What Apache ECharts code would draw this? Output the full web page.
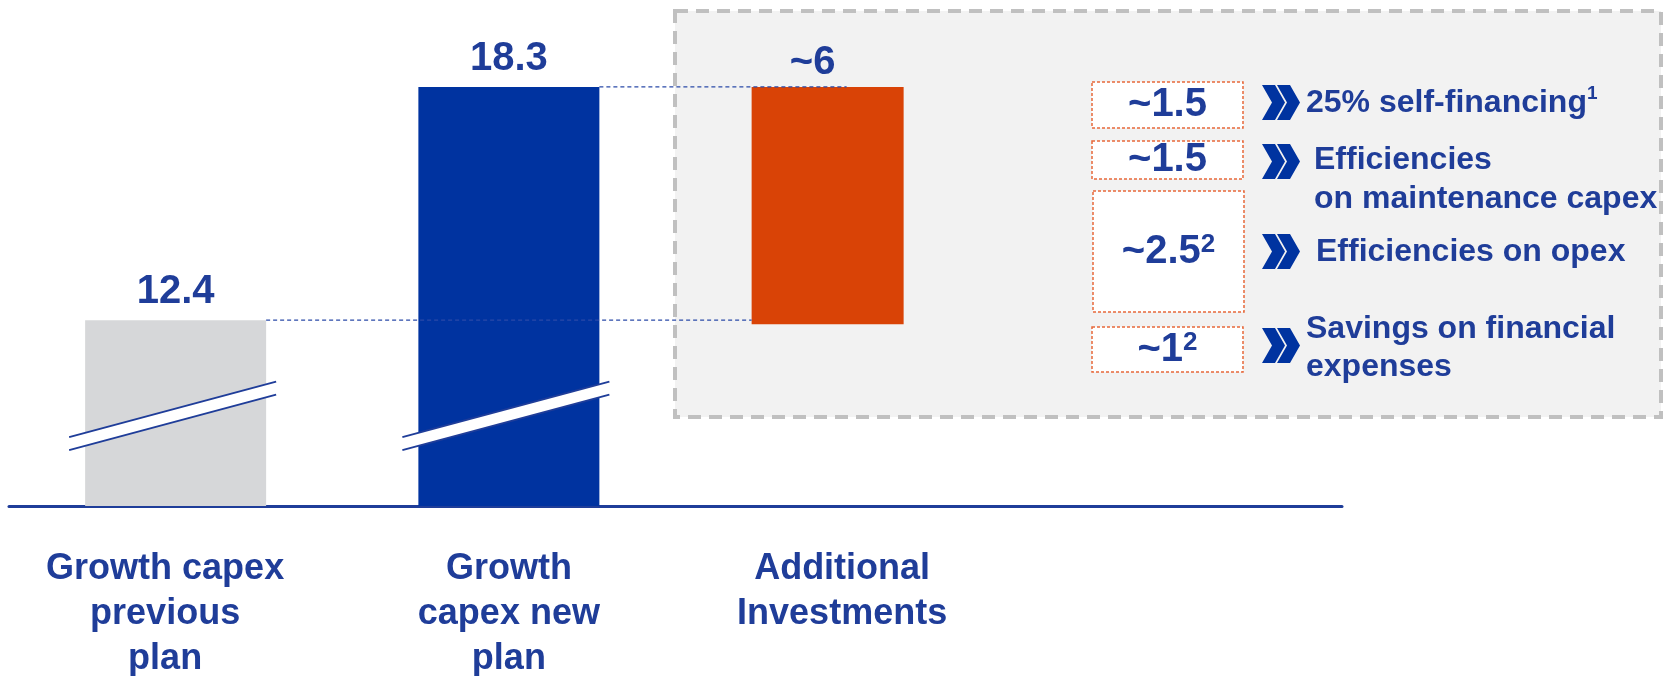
<!DOCTYPE html>
<html>
<head>
<meta charset="utf-8">
<script src="https://cdn.jsdelivr.net/npm/echarts@6/dist/echarts.min.js"></script>
<style>
  html, body { margin: 0; padding: 0; background: #ffffff; }
  #chart { width: 1668px; height: 676px; }
</style>
</head>
<body>
<div id="chart"></div>
<script>
// ---- data ----
const categories = ['Growth capex\nprevious\nplan', 'Growth\ncapex new\nplan', 'Additional\nInvestments', ''];
const previousPlan = 12.4;
const newPlan = 18.3;
const additional = 6;

const breakdownValues = ['~1.5', '~1.5', '~2.5', '~1'];
const breakdownValueNotes = ['', '', '2', '2'];
const breakdownLabels = ['25% self-financing', 'Efficiencies\non maintenance capex', 'Efficiencies on opex', 'Savings on financial\nexpenses'];
const breakdownLabelNotes = ['1', '', '', ''];

// ---- series built from the data ----
const planValues = [previousPlan, newPlan, '-', '-'];
const addBase = ['-', '-', +(newPlan - additional).toFixed(1), '-'];
const addValues = ['-', '-', additional, '-'];
const ADD_INDEX = 2;

// ---- styling ----
const FONT = "'Liberation Sans', Arial, Helvetica, sans-serif";
const TEXT = '#1f3d99';
const BLUE = '#0033a0';
const GREY = '#d6d7d9';
const ORANGE = '#d94306';
const PLAN_BAR_W = 181;
const ADD_BAR_W = 152;
// with barGap -100% the narrower stacked bar sits left-aligned with the wider one
const ADD_SHIFT = -(PLAN_BAR_W - ADD_BAR_W) / 2;
const BREAK_AT = 10;        // value where the axis break slashes cross the bars

const chart = echarts.init(document.getElementById('chart'), null, { renderer: 'canvas' });

// axis-break slashes across the plan bars
function renderBreak(params, api) {
  const c = api.coord([api.value(0), BREAK_AT]);
  const half = PLAN_BAR_W / 2;
  const x1 = c[0] - half - 16;
  const x2 = c[0] + half + 10;
  const slope = -0.268;
  const yAt = x => c[1] + slope * (x - c[0]);
  const g = 6.5;
  return {
    type: 'group',
    children: [
      { type: 'polygon', shape: { points: [[x1, yAt(x1) - g], [x2, yAt(x2) - g], [x2, yAt(x2) + g], [x1, yAt(x1) + g]] },
        style: { fill: '#ffffff' } },
      { type: 'line', shape: { x1: x1, y1: yAt(x1) - g, x2: x2, y2: yAt(x2) - g },
        style: { stroke: TEXT, lineWidth: 2 } },
      { type: 'line', shape: { x1: x1, y1: yAt(x1) + g, x2: x2, y2: yAt(x2) + g },
        style: { stroke: TEXT, lineWidth: 2 } }
    ]
  };
}

// dashed connectors from each plan bar top towards the additional bar
function renderConnector(params, api) {
  const from = api.coord([api.value(0), api.value(1)]);
  const to = api.coord([ADD_INDEX, api.value(1)]);
  const addCenter = to[0] + ADD_SHIFT;
  const xs = from[0] + PLAN_BAR_W / 2;
  const xe = params.dataIndex === 0 ? addCenter - ADD_BAR_W / 2 : addCenter + 19;
  return {
    type: 'line',
    shape: { x1: xs, y1: from[1], x2: xe, y2: from[1] },
    style: { stroke: '#2a4aa8', lineWidth: 1.3, lineDash: [4, 3] }
  };
}

// side panel: breakdown of the additional investments
const rowLayout = [
  { box: [1092, 82, 151, 46],  chevY: 85,  textX: 1306, textY: 103,   lh: 38 },
  { box: [1092, 141, 151, 38], chevY: 144, textX: 1314, textY: 179.5, lh: 39 },
  { box: [1093, 191, 151, 121], chevY: 234, textX: 1316, textY: 252,  lh: 38 },
  { box: [1092, 327, 151, 45], chevY: 328, textX: 1306, textY: 348.5, lh: 38 }
];

function chevron(x0, y0) {
  const h = 35, t = 13, d = 10;
  const pts = x => [[x, y0], [x + t, y0], [x + t + d, y0 + h / 2], [x + t, y0 + h], [x, y0 + h], [x + d, y0 + h / 2]];
  return [
    { type: 'polygon', z: 10, shape: { points: pts(x0) }, style: { fill: BLUE } },
    { type: 'polygon', z: 10, shape: { points: pts(x0 + 15) }, style: { fill: BLUE } }
  ];
}

const panel = [{
  type: 'rect', z: 0,
  shape: { x: 675, y: 11, width: 986, height: 406 },
  style: { fill: '#f2f2f2', stroke: '#c0c0c0', lineWidth: 4, lineDash: [13, 8] }
}];

breakdownValues.forEach((v, i) => {
  const r = rowLayout[i];
  const [bx, by, bw, bh] = r.box;
  panel.push({
    type: 'rect', z: 10,
    shape: { x: bx, y: by, width: bw, height: bh },
    style: { fill: '#ffffff', stroke: '#e8683a', lineWidth: 1.5, lineDash: [3, 2] }
  });
  const note = breakdownValueNotes[i];
  panel.push({
    type: 'text', z: 11,
    x: bx + bw / 2, y: by + bh / 2,
    style: {
      text: '{v|' + v + '}' + (note ? '{s|' + note + '}' : ''),
      align: 'center', verticalAlign: 'middle',
      rich: {
        v: { fontSize: 40, fontWeight: 'bold', fontFamily: FONT, fill: TEXT, lineHeight: 40 },
        s: { fontSize: 26, fontWeight: 'bold', fontFamily: FONT, fill: TEXT, lineHeight: 26, verticalAlign: 'top' }
      }
    }
  });
  panel.push(...chevron(1262, r.chevY));
  const lnote = breakdownLabelNotes[i];
  const lines = breakdownLabels[i].split('\n').map(s => '{t|' + s + '}');
  panel.push({
    type: 'text', z: 11,
    x: r.textX, y: r.textY,
    style: {
      text: lines.join('\n') + (lnote ? '{s|' + lnote + '}' : ''),
      align: 'left', verticalAlign: 'middle',
      rich: {
        t: { fontSize: 32, fontWeight: 'bold', fontFamily: FONT, fill: TEXT, lineHeight: r.lh },
        s: { fontSize: 19, fontWeight: 'bold', fontFamily: FONT, fill: TEXT, lineHeight: 19, verticalAlign: 'top' }
      }
    }
  });
});

const valueLabel = {
  show: true, position: 'top', distance: 8,
  color: TEXT, fontFamily: FONT, fontSize: 40, fontWeight: 'bold', lineHeight: 40
};

chart.setOption({
  animation: false,
  backgroundColor: '#ffffff',
  grid: { left: 9, right: 326, top: 0, bottom: 170, containLabel: false, outerBoundsMode: 'none' },
  xAxis: {
    type: 'category',
    data: categories.map((c, i) => i === 0
      ? { value: c, textStyle: { padding: [0, 21, 0, 0] } }
      : c),
    axisLine: { show: true, lineStyle: { color: TEXT, width: 3 } },
    axisTick: { show: false },
    splitLine: { show: false },
    axisLabel: {
      interval: 0, margin: 41,
      color: TEXT, fontFamily: FONT, fontSize: 36, fontWeight: 'bold', lineHeight: 45
    }
  },
  yAxis: { type: 'value', min: 7.7, max: 20.5, show: false },
  graphic: { elements: panel },
  series: [
    {
      name: 'base', type: 'bar', stack: 'add', barWidth: ADD_BAR_W, barGap: '-100%',
      data: addBase, silent: true, z: 2,
      itemStyle: { color: 'rgba(0,0,0,0)' }, label: { show: false }
    },
    {
      name: 'Additional Investments', type: 'bar', stack: 'add', barWidth: ADD_BAR_W, barGap: '-100%',
      data: addValues, z: 2,
      itemStyle: { color: ORANGE },
      label: Object.assign({}, valueLabel, { formatter: p => '~' + p.value, offset: [-15, 4] })
    },
    {
      name: 'Growth capex', type: 'bar', barWidth: PLAN_BAR_W, barGap: '-100%', z: 2,
      data: planValues.map((v, i) => ({ value: v, itemStyle: { color: i === 0 ? GREY : BLUE } })),
      label: Object.assign({}, valueLabel, { formatter: '{c}' })
    },
    {
      name: 'breaks', type: 'custom', coordinateSystem: 'cartesian2d', z: 4, silent: true,
      encode: { x: 0, y: 1 },
      data: planValues.map((v, i) => [i, v]).filter(d => d[1] !== '-'),
      renderItem: renderBreak
    },
    {
      name: 'connectors', type: 'custom', coordinateSystem: 'cartesian2d', z: 5, silent: true,
      encode: { x: 0, y: 1 },
      data: [[0, previousPlan], [1, newPlan]],
      renderItem: renderConnector
    }
  ]
});
</script>
</body>
</html>
